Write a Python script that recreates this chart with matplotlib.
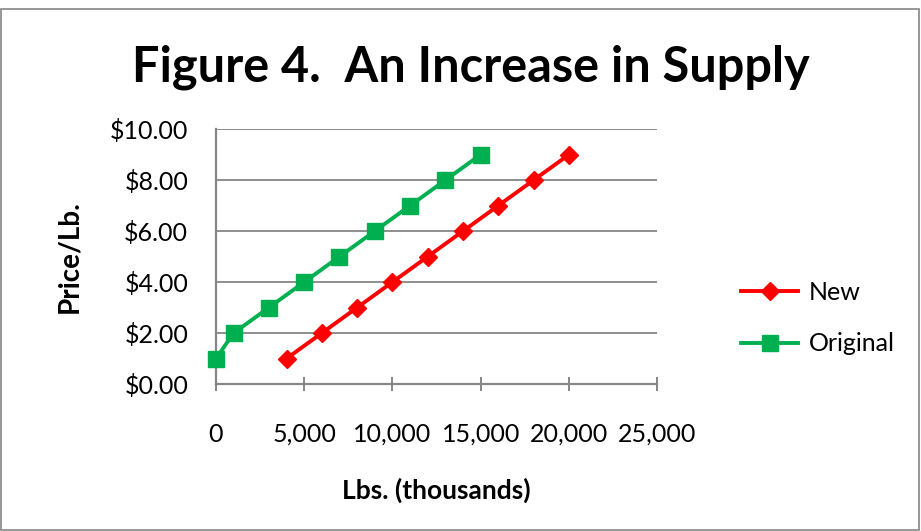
import matplotlib
matplotlib.use("Agg")
import matplotlib.pyplot as plt
from matplotlib.ticker import FuncFormatter
from matplotlib.patches import Rectangle

new_x = [4000, 6000, 8000, 10000, 12000, 14000, 16000, 18000, 20000]
new_y = [1, 2, 3, 4, 5, 6, 7, 8, 9]
orig_x = [0, 1000, 3000, 5000, 7000, 9000, 11000, 13000, 15000]
orig_y = [1, 2, 3, 4, 5, 6, 7, 8, 9]
x_ticks = [0, 5000, 10000, 15000, 20000, 25000]
y_ticks = [0, 2, 4, 6, 8, 10]

plt.rcParams['font.family'] = ['Lato', 'DejaVu Sans']

fig = plt.figure(figsize=(9.21, 5.31), dpi=100)
fig.patches.append(Rectangle((0.001, 0.001), 0.997, 0.982, transform=fig.transFigure,
                             fill=False, edgecolor='#868686', linewidth=1.2))
ax = fig.add_axes([0.2345, 0.2768, 0.479, 0.480])

ax.plot(new_x, new_y, color='#ff0000', marker='D', markersize=9.5, linewidth=2.8, label='New', zorder=3)
ax.plot(orig_x, orig_y, color='#00b050', marker='s', markersize=11.5, linewidth=2.8, label='Original', zorder=3, clip_on=False)

ax.set_xlim(0, 25000)
ax.set_ylim(0, 10)
ax.set_xticks(x_ticks)
ax.set_yticks(y_ticks)
ax.xaxis.set_major_formatter(FuncFormatter(lambda v, p: f"{int(v):,}"))
ax.yaxis.set_major_formatter(FuncFormatter(lambda v, p: f"${v:.2f}"))
ax.grid(axis='y', color='#868686', linewidth=1.3)
ax.set_axisbelow(True)
for s in ['top', 'right']:
    ax.spines[s].set_visible(False)
for s in ['left', 'bottom']:
    ax.spines[s].set_color('#868686')
    ax.spines[s].set_linewidth(1.6)
ax.tick_params(axis='x', direction='inout', length=10, width=1.4, color='#868686', pad=23, labelsize=18)
ax.tick_params(axis='y', length=0, pad=20, labelsize=18)

ax.set_xlabel('Lbs. (thousands)', fontsize=19, fontweight='bold')
ax.set_ylabel('Price/Lb.', fontsize=20, fontweight='bold')
ax.yaxis.set_label_coords(-0.304, 0.5)
ax.xaxis.set_label_coords(0.499, -0.369)

fig.text(0.511, 0.873, 'Figure 4.  An Increase in Supply', ha='center', va='center',
         fontsize=35, fontweight='bold')

fig.legend(loc='center left', bbox_to_anchor=(0.78, 0.401), frameon=False, fontsize=18,
           handlelength=2.3, labelspacing=1.15, handletextpad=0.4)

fig.savefig('out.png', dpi=100)
